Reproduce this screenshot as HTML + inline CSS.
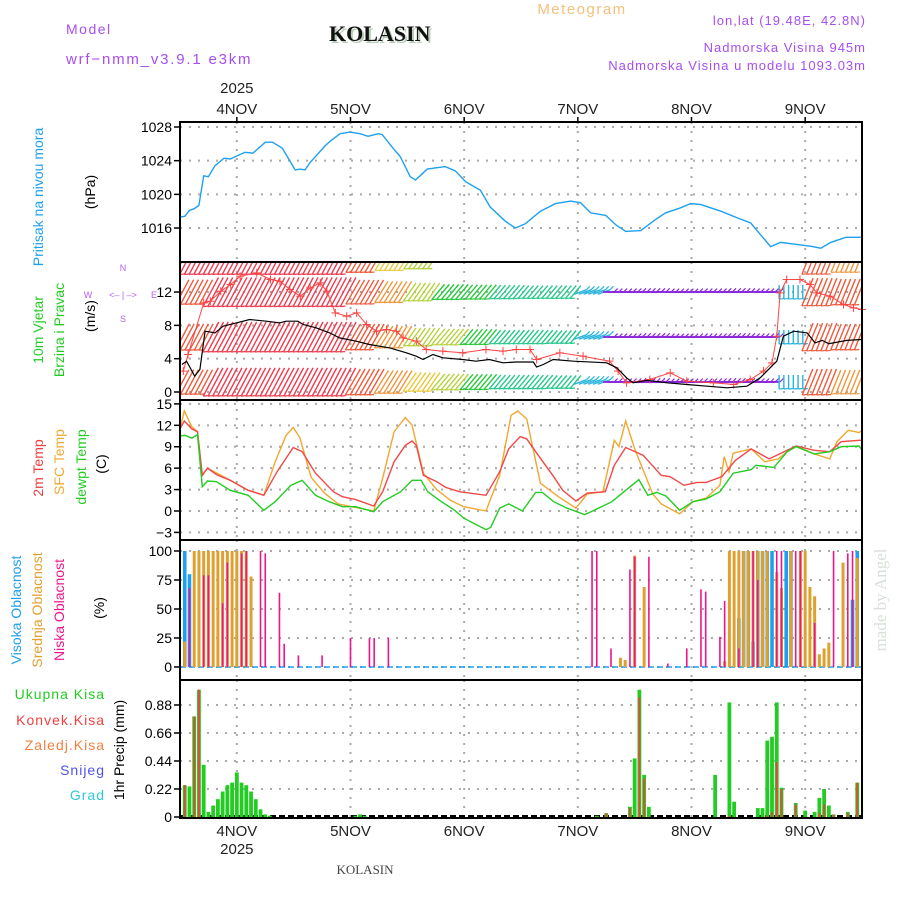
<!DOCTYPE html>
<html><head><meta charset="utf-8">
<style>
html,body{margin:0;padding:0;background:#fff;}
svg{display:block;font-family:"Liberation Sans",sans-serif;}
</style></head>
<body>
<svg id="chart" width="900" height="900" viewBox="0 0 900 900">
<defs>
<clipPath id="clipW"><rect x="180" y="262" width="682" height="138"/></clipPath>
</defs>
<g>
<text x="66" y="34" font-size="14" fill="#a64ef0" letter-spacing="1.5">Model</text>
<text x="66" y="64" font-size="15" fill="#a64ef0" letter-spacing="1.8">wrf−nmm_v3.9.1 e3km</text>
<text x="331" y="43" font-size="22" font-weight="bold" font-family="Liberation Serif,serif" fill="#b8ccb8">KOLASIN</text>
<text x="329" y="41" font-size="22" font-weight="bold" font-family="Liberation Serif,serif" fill="#111">KOLASIN</text>
<text x="582" y="14" font-size="15" fill="#f5c07a" text-anchor="middle" letter-spacing="1.5">Meteogram</text>
<text x="866" y="25" font-size="13" fill="#a64ef0" text-anchor="end" letter-spacing="1">lon,lat (19.48E, 42.8N)</text>
<text x="866" y="52" font-size="13" fill="#a64ef0" text-anchor="end" letter-spacing="1">Nadmorska Visina 945m</text>
<text x="866" y="70" font-size="13" fill="#a64ef0" text-anchor="end" letter-spacing="1">Nadmorska Visina u modelu 1093.03m</text>
</g>
<g font-size="14">
<text transform="translate(43,197) rotate(-90)" text-anchor="middle" fill="#1ea0f0">Pritisak na nivou mora</text>
<text transform="translate(95,192) rotate(-90)" text-anchor="middle" fill="#000">(hPa)</text>
<text transform="translate(43,330) rotate(-90)" text-anchor="middle" fill="#22cc22">10m Vjetar</text>
<text transform="translate(64,330) rotate(-90)" text-anchor="middle" fill="#22cc22">Brzina i Pravac</text>
<text transform="translate(95,316) rotate(-90)" text-anchor="middle" fill="#000">(m/s)</text>
<g fill="#b060f0" font-size="9">
<text x="123" y="271" text-anchor="middle">N</text><text x="123" y="322" text-anchor="middle">S</text>
<text x="88" y="298" text-anchor="middle">W</text><text x="154" y="298" text-anchor="middle">E</text>
<text x="123" y="298" text-anchor="middle">&lt;– | –&gt;</text>
</g>
<text transform="translate(43,468) rotate(-90)" text-anchor="middle" fill="#f03c3c">2m Temp</text>
<text transform="translate(64,462) rotate(-90)" text-anchor="middle" fill="#f0a832">SFC Temp</text>
<text transform="translate(86,467) rotate(-90)" text-anchor="middle" fill="#22cc22">dewpt Temp</text>
<text transform="translate(106,464) rotate(-90)" text-anchor="middle" fill="#000">(C)</text>
<text transform="translate(21,610) rotate(-90)" text-anchor="middle" fill="#1ea0f0">Visoka Oblacnost</text>
<text transform="translate(42,610) rotate(-90)" text-anchor="middle" fill="#e0a030">Srednja Oblacnost</text>
<text transform="translate(64,610) rotate(-90)" text-anchor="middle" fill="#f0148c">Niska Oblacnost</text>
<text transform="translate(104,608) rotate(-90)" text-anchor="middle" fill="#000">(%)</text>
<text x="105" y="699" text-anchor="end" fill="#22cc22" letter-spacing="1">Ukupna  Kisa</text>
<text x="105" y="725" text-anchor="end" fill="#f04040" letter-spacing="1">Konvek.Kisa</text>
<text x="105" y="750" text-anchor="end" fill="#f08040" letter-spacing="1">Zaledj.Kisa</text>
<text x="105" y="775" text-anchor="end" fill="#5050f0" letter-spacing="1">Snijeg</text>
<text x="105" y="800" text-anchor="end" fill="#30c8d8" letter-spacing="1">Grad</text>
<text transform="translate(124,750) rotate(-90)" text-anchor="middle" fill="#000">1hr Precip (mm)</text>
<text transform="translate(886,600) rotate(-90)" text-anchor="middle" fill="#d8e0d8" font-size="17" font-family="Liberation Serif,serif">made by Angel</text>
<text x="365" y="874" text-anchor="middle" fill="#444" font-size="13" font-family="Liberation Serif,serif">KOLASIN</text>
</g>
<g id="grid"></g>
<g id="marks"></g>
<g id="frames"></g>
</svg>
<script>
// ---- data (hours since 3 Nov 12:00) ----
const dayLabels = ["4NOV","5NOV","6NOV","7NOV","8NOV","9NOV"];
const dayHours = [12,36,60,84,108,132];
const presTicks = [1028,1024,1020,1016];
const windTicks = [0,4,8,12];
const tempTicks = [15,12,9,6,3,0,-3];
const cloudTicks = [100,75,50,25,0];
const precTicks = [0.88,0.66,0.44,0.22,0];

const presHours = [0,1,2,3,4,5,6,7.4,9.3,10.6,13.7,15.4,18,19.5,21.6,24.3,25.4,26.4,27.5,30.7,31.7,33.8,35.9,38,39.7,41.9,42.7,44.8,46.5,48.6,49.7,50.7,52.2,56,58.1,60.3,63.4,65.5,68.7,70.8,72.9,76.1,79.3,82.5,84.6,86.7,89.9,92,94.1,97.3,100.4,102.5,105.7,107.8,109.9,114.2,117.3,120.5,122.6,124.7,126.8,131.1,133.6,135.3,137.4,140.6,144];
const presVals = [1017.3,1017.4,1018.1,1018.3,1018.7,1022.2,1022.1,1023.4,1024.3,1024.2,1025.0,1024.9,1026.2,1026.2,1025.5,1022.9,1023.0,1022.9,1023.8,1025.8,1026.3,1027.2,1027.4,1027.2,1026.9,1027.2,1027.1,1025.6,1024.5,1022.1,1021.7,1022.2,1023.0,1023.3,1022.8,1021.5,1020.5,1018.5,1016.8,1016.0,1016.5,1018.0,1018.9,1019.2,1019.0,1017.8,1017.5,1016.4,1015.6,1015.7,1017.0,1017.8,1018.4,1018.9,1018.8,1018.0,1017.3,1016.6,1015.2,1013.8,1014.3,1014.0,1013.8,1013.6,1014.3,1014.9,1014.9];

const speedHours = [0.4,1.4,3.1,4.2,5.3,7.4,9.1,11.9,14.7,18.2,21.0,22.4,24.9,26.0,28.8,31.6,33.7,37.2,40.0,44.3,47.8,49.9,51.3,53.4,55.5,59.7,62.5,65.3,68.2,71.0,74.6,75.3,76.7,78.8,83.1,90.1,92.2,94.3,95.7,98.6,102.8,107.0,111.3,115.5,119.7,122.5,124.6,126.0,127.4,129.6,132.4,134.1,135.6,137.0,140.8,144];
const speedVals = [3.3,3.7,1.9,2.7,7.3,7.1,7.9,8.3,8.7,8.5,8.3,8.5,8.5,8.1,7.7,7.1,6.5,6.1,5.7,5.3,4.7,4.3,3.9,4.5,4.1,3.9,3.7,3.9,3.5,3.6,3.6,3.0,3.3,3.9,3.7,3.5,2.9,1.7,1.1,1.4,1.1,0.9,0.7,0.5,0.7,1.7,2.9,3.7,6.7,7.3,7.1,5.9,6.2,5.8,6.2,6.3];
const gustHours = [0.7,1.7,5.0,6.4,8.6,10.7,12.7,16.2,19.1,21.1,23.2,25.4,27.5,29.6,31.0,32.8,35.2,37.3,39.4,41.5,43.6,45.7,47.1,49.9,52.0,55.5,59.7,64.6,68.2,71.0,73.9,75.3,80.2,85.1,90.7,92.5,94.3,99.2,103.5,107.0,112.6,116.9,120.4,123.2,125.0,126.0,126.7,128.1,130.9,133.0,134.5,137.3,140.1,142.2,144];
const gustVals = [2.5,4.5,10.7,10.9,12.1,12.9,13.9,14.3,13.5,13.3,12.3,11.5,12.5,13.1,12.1,9.5,9.1,9.5,8.1,7.3,7.5,7.3,6.5,6.1,5.1,4.9,4.7,5.1,4.9,5.1,5.1,3.9,4.7,4.3,3.7,2.5,1.1,1.5,2.3,1.3,1.1,0.9,1.5,2.5,3.5,6.7,11.9,13.5,13.5,12.9,11.9,11.5,10.5,10.1,9.9];

const barbAngle = [62,62,62,62,62,62,60,58,55,50,50,50,50,50,200,180,182,178,180,182,180,90,68,68];
const barbSpeedL0 = [10,12,12,12,12,12,11,9.5,7.5,6.5,6,5,5,4.5,2.5,1.5,1.5,1.5,1.5,1.5,1.5,3,10,9];
const barbSpeedL1 = [11,13,13,13,13,13,11,9,7,6.5,6,5,5,4.5,2.5,1.5,1.5,1.5,1.5,1.5,1.5,3,11,10];
const barbSpeedL2 = [10,12.5,12.5,12.5,12.5,12.5,10,8.5,7,6,5.5,5,4.5,4.5,2.5,1.5,1.5,1.5,1.5,1.5,1.5,3,11,10];
const barbSpeedL3 = [12,12,12,12,12,12,10,8,6.5,0,0,0,0,0,0,0,0,0,0,0,0,0,11,9];

const t2Hours = [0,0.9,2.5,3.7,4.7,5.8,7.7,10.6,14.4,17.7,20.5,23.9,25.8,28.6,32.4,34.3,37.1,40.9,42.8,45.2,47.6,49.0,49.9,51.4,54.2,56.1,59.0,64.6,67.5,69.4,71.8,73.2,75.1,78.9,80.8,83.6,86.0,89.8,91.7,94.1,97.8,101.6,103.5,106.4,109.2,111.1,114.4,117.3,120.6,124.4,128.2,130.1,133.9,137.2,139.6,143.4,144];
const t2Vals = [11.5,12.6,11.5,11.1,5.0,6.0,5.1,4.3,2.9,2.2,5.5,8.9,8.3,5.3,2.7,2.0,1.6,0.7,2.7,6.9,9.2,9.8,9.2,5.0,4.1,3.3,2.7,2.2,5.5,8.7,10.4,10.1,8.3,4.8,2.9,1.4,2.5,2.7,6.4,8.9,7.8,5.0,4.8,3.6,4.0,4.0,4.8,7.1,8.7,7.3,8.5,9.1,8.5,8.3,9.7,9.9,9.9];
const sfcHours = [0,0.9,2.5,3.7,4.7,5.8,10.6,14.4,17.7,20.1,22.4,23.9,25.3,27.7,30.5,33.4,36.2,40.9,42.8,45.2,47.6,49.0,51.4,54.2,57.1,59.9,64.6,67.5,69.9,71.3,73.2,76.1,79.9,83.6,86.0,89.3,91.7,92.7,94.1,96.0,99.8,101.6,105.5,108.3,111.1,114.0,114.9,115.9,116.8,120.6,123.5,126.3,128.2,130.1,133.9,137.2,138.7,141.1,143.4,144];
const sfcVals = [11.5,14.0,11.8,11.1,5.0,6.0,4.3,2.9,2.2,6.9,10.6,11.7,10.3,4.7,2.5,1.0,0.6,0,4.6,11.1,13.1,12.0,5.3,3.0,1.5,0.6,0,5.0,13.4,14.0,12.9,3.9,2.0,0.4,2.4,2.7,9.9,9.0,12.6,8.7,2.4,1.0,-0.4,1.3,1.8,3.6,7.6,5.5,8.1,8.7,6.9,7.3,8.3,9.1,8.0,7.3,9.7,11.3,11.0,11.3];
const dewHours = [0,1.1,2.5,3.7,4.7,5.8,7.7,10.6,14.4,17.7,20.1,23.4,25.8,28.6,31.5,34.3,37.1,40.9,42.8,46.6,49.0,50.9,52.3,55.2,58.0,59.9,62.8,64.6,65.6,67.5,69.4,72.3,75.1,76.5,78.9,81.7,85.5,88.4,91.2,94.1,96.9,98.8,100.7,102.6,105.5,108.3,111.1,114.0,116.8,120.6,121.6,125.4,128.2,130.1,133.9,137.2,139.6,143.4,144];
const dewVals = [10.5,10.6,10.2,10.7,3.4,4.2,4.1,2.9,2.2,0.1,1.3,3.6,4.3,2.2,1.3,0.6,0.6,-0.1,1.3,2.7,4.3,4.3,2.7,1.3,0.1,-1.0,-2.0,-2.6,-2.3,0.4,1.0,0,2.6,2.6,1.3,0.4,-0.5,0.4,1.3,2.9,4.4,2.2,2.6,2.1,0.1,1.3,1.7,2.7,5.3,5.8,6.4,6.1,8.3,9.0,8.0,8.3,9.0,9.1,8.5];

const highHours = [1,2,118,119,120,121,122,123,124,125,128,129,142,143];
const highVals = [100,80,42,100,100,22,100,100,100,100,100,100,58,100];
const midHours = [1,3,4,5,6,7,8,9,10,11,12,13,14,15,93,94,96,98,115,116,117,118,119,120,121,122,123,124,126,127,129,131,132,133,134,135,136,137,140,143];
const midVals = [22,100,100,100,100,100,100,100,100,100,100,100,100,78,8,6,96,69,5,100,100,100,100,100,100,100,100,100,82,68,100,100,100,69,61,11,16,21,90,94];
const lowHours = [2,5,6,9,10,13,14,17,18,21,22,25,30,36,40,41,44,87,88,91,95,96,99,103,107,110,111,114,115,118,121,122,126,127,130,131,134,138,141,142];
const lowVals = [68,79,79,55,90,98,100,100,98,64,20,10,10,25,25,25,25,100,100,16,84,95,95,3,16,67,65,26,57,16,100,75,100,100,100,100,38,100,98,100];

const rainHours = [1,2,3,4,5,6,7,8,9,10,11,12,13,14,15,16,17,18,19,37,38,39,88,90,95,96,97,98,99,113,116,117,122,123,124,125,126,127,130,132,134,135,136,137,138,141,143];
const rainVals = [0.25,0.24,0.79,1.0,0.41,0.04,0.09,0.14,0.2,0.25,0.27,0.35,0.27,0.25,0.2,0.14,0.06,0.02,0.01,0.01,0.02,0.01,0.01,0.03,0.08,0.46,1.0,0.33,0.08,0.33,0.9,0.12,0.07,0.07,0.6,0.63,0.9,0.23,0.11,0.05,0.04,0.15,0.22,0.09,0.02,0.04,0.27];
const convHours = [1,3,4,90,95,97,98,116,124,125,126,127,130,135,136,138,141,143];
const convVals = [0.25,0.79,1.0,0.03,0.07,0.94,0.3,0.01,0.01,0.04,0.43,0.22,0.1,0.03,0.1,0.02,0.03,0.27];

// ---- scales ----
const X0=180, X1=862, HOURS=144;
const X = h => X0 + h*(X1-X0)/HOURS;
const yP = v => 127 + (1028-v)*8.42;
const yW = v => 392 - v*8.33;
const yT = v => 511 - v*7.14;
const yC = v => 667 - v*1.16;
const yR = v => 817 - v*127.3;
const panels = [[122,262],[262,400],[400,540],[540,680],[680,818]];

const NS="http://www.w3.org/2000/svg";
const G=document.getElementById('grid'), M=document.getElementById('marks'), F=document.getElementById('frames');
function mk(tag, attrs, parent){const e=document.createElementNS(NS,tag);for(const k in attrs)e.setAttribute(k,attrs[k]);(parent||M).appendChild(e);return e;}

dayHours.forEach((h,i)=>{
  panels.forEach(p=>{
    const l=mk('line',{x1:X(h),x2:X(h),y1:p[0],y2:p[1],stroke:'#aaa','stroke-width':2,'stroke-dasharray':'2,7'},G);
    
    
  });
  const t=mk('text',{x:X(h),y:114,'font-size':15,'text-anchor':'middle',fill:'#222'},G);
  t.textContent=dayLabels[i];
  
  
  const b=mk('text',{x:X(h),y:836,'font-size':15,'text-anchor':'middle',fill:'#222'},G);
  b.textContent=dayLabels[i];
  
  
  const tk=mk('line',{x1:X(h),x2:X(h),y1:117,y2:122,stroke:'#000','stroke-width':1.5},G);
  
  
});
[[93,'top-year'],[854,'bottom-year']].forEach(a=>{
  const t=mk('text',{x:X(12),y:a[0],'font-size':15,'text-anchor':'middle',fill:'#222'},G);
  t.textContent='2025';
  
  
});

function yTicks(ticks, yf, name){
  ticks.forEach(v=>{
    const y=yf(v);
    const l=mk('line',{x1:X0,x2:X1,y1:y,y2:y,stroke:'#aaa','stroke-width':2,'stroke-dasharray':'2,7'},G);
    
    
    const tk=mk('line',{x1:X0-6,x2:X0,y1:y,y2:y,stroke:'#000','stroke-width':1.5},G);
    
    
    const t=mk('text',{x:X0-8,y:y+5,'font-size':14,'text-anchor':'end',fill:'#000'},G);
    t.textContent=String(v).replace('-','−');
    
    
  });
}
yTicks(presTicks,yP,'pressure-axis');
yTicks(windTicks,yW,'wind-axis');
yTicks(tempTicks,yT,'temp-axis');
yTicks(cloudTicks,yC,'cloud-axis');
yTicks(precTicks,yR,'precip-axis');

function path(hs, vs, yf){return hs.map((h,i)=>(i?'L':'M')+X(h).toFixed(1)+','+yf(vs[i]).toFixed(1)).join(' ');}

const pl=mk('path',{d:path(presHours,presVals,yP),fill:'none',stroke:'#1ea0f0','stroke-width':1.4});



function barbColor(s){
  if(s>=12)return '#f03c50'; if(s>=10)return '#f05a3c'; if(s>=8.5)return '#f0963c';
  if(s>=7.5)return '#e8c83c'; if(s>=6.5)return '#b4d23c'; if(s>=5.5)return '#28c83c';
  if(s>=4.5)return '#28c88c'; if(s>=3.5)return '#28c8b4'; if(s>=2.5)return '#28b4dc';
  if(s>=2)return '#3c64f0'; return '#8c28dc';
}
const barbG=mk('g',{'clip-path':'url(#clipW)'});


const levels=[[barbSpeedL0,1.2],[barbSpeedL1,6.6],[barbSpeedL2,12],[barbSpeedL3,15.8]];
levels.forEach(lv=>{
  const sp=lv[0], cy=yW(lv[1]);
  for(let h=0;h<HOURS;h++){
    const b=Math.floor(h/6), s=sp[b];
    if(!s)continue;
    const a=barbAngle[b]*Math.PI/180, L=8+s*2;
    const dx=Math.cos(a)*L/2, dy=Math.sin(a)*L/2, x=X(h+0.5);
    const col=barbColor(s);
    const ln=mk('line',{x1:x-dx,y1:cy+dy,x2:x+dx,y2:cy-dy,stroke:col,'stroke-width':s<2?1.8:1.4},barbG);
    
    
    const tx=x-dx, ty=cy+dy;
    const f=mk('line',{x1:tx,y1:ty,x2:tx+(s<3?3.5:5),y2:ty-(s<3?3.5:0.5),stroke:col,'stroke-width':1.2},barbG);
    
    
  }
});
const gl=mk('path',{d:path(gustHours,gustVals,yW),fill:'none',stroke:'#f44','stroke-width':1,'clip-path':'url(#clipW)'});


gustHours.forEach((h,i)=>{
  const x=X(h), y=yW(gustVals[i]);
  const c=mk('path',{d:`M${x-4},${y}H${x+4}M${x},${y-4}V${y+4}`,stroke:'#f44','stroke-width':1});
  
  
});
const sl=mk('path',{d:path(speedHours,speedVals,yW),fill:'none',stroke:'#000','stroke-width':1.2});



[[sfcHours,sfcVals,'#f0a832','sfc-temp-line'],[t2Hours,t2Vals,'#f04848','temp-2m-line'],[dewHours,dewVals,'#22cc22','dewpoint-line']].forEach(s=>{
  const p=mk('path',{d:path(s[0],s[1],yT),fill:'none',stroke:s[2],'stroke-width':1.4});
  
  
});

function bars(hs,vs,yf,w,col,name){
  hs.forEach((h,i)=>{
    const x=X(h), y=yf(vs[i]), y0=yf(0);
    const r=mk('rect',{x:x-w/2,y:Math.min(y,y0),width:w,height:Math.max(Math.abs(y0-y),0.8),fill:col});
    
    
  });
}
const base=mk('line',{x1:X0,x2:X1,y1:yC(0),y2:yC(0),stroke:'#1ea0f0','stroke-width':1.5,'stroke-dasharray':'6,3'});


bars(highHours,highVals,yC,3.6,'#1ea0f0','cloud-high-bar');
bars(midHours,midVals,yC,3,'#e0a030','cloud-mid-bar');
bars(lowHours,lowVals,yC,1.6,'#f0148c','cloud-low-bar');

const pb=mk('line',{x1:X0,x2:X1,y1:yR(0)-1,y2:yR(0)-1,stroke:'#000','stroke-width':2,'stroke-dasharray':'6,3'});


bars(rainHours,rainVals,yR,3.8,'#22cc22','precip-total-bar');
bars(convHours,convVals,yR,1.8,'#f04040','precip-convective-bar');

panels.forEach(p=>{
  const r=mk('rect',{x:X0,y:p[0],width:X1-X0,height:p[1]-p[0],fill:'none',stroke:'#000','stroke-width':2},F);
  
  
});
</script>
</body></html>
